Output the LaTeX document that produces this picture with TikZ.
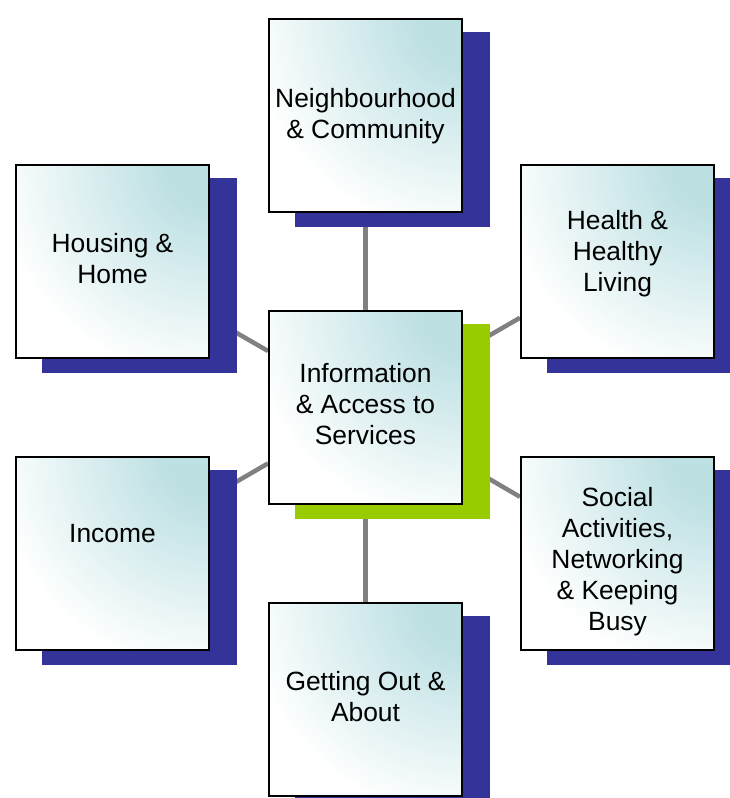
\documentclass[tikz,border=0pt]{standalone}
\usepackage{fontspec}
\setmainfont{Liberation Sans}
\usetikzlibrary{backgrounds}
\definecolor{tealc}{RGB}{189,224,227}
\definecolor{sblue}{RGB}{51,51,153}
\definecolor{sgreen}{RGB}{153,204,0}
\definecolor{connc}{RGB}{128,128,128}
\pgfdeclareradialshading{boxshade}{\pgfpoint{0bp}{0bp}}{color(0bp)=(tealc); color(5bp)=(tealc); color(25bp)=(white); color(50bp)=(white)}
\pgfdeclarelayer{lineslayer}
\pgfdeclarelayer{shadowlayer}
\pgfsetlayers{lineslayer,shadowlayer,main}
\begin{document}
\begin{tikzpicture}[x=1pt,y=-1pt,
  box/.style={draw=black, fill=white, line width=2pt, minimum size=193pt, inner sep=0pt,
    path picture={\shade[shading=boxshade] (path picture bounding box.north east) circle (215pt);}},
  lbl/.style={align=center, inner sep=0pt, font=\fontsize{26.4}{31}\selectfont},
  connline/.style={draw=connc, line width=4.5pt},
  bshadow/.style={fill=sblue},
  gshadow/.style={fill=sgreen}]
\useasboundingbox (0,0) rectangle (730,798);

\node[box] (n) at (365.5,115.5) {};
\node[box] (h) at (112.5,261.5) {};
\node[box] (he) at (617.5,261.5) {};
\node[box] (c) at (365.5,407) {};
\node[box] (i) at (112.5,553.5) {};
\node[box] (s) at (617.5,553.5) {};
\node[box] (g) at (365.5,699.5) {};

\begin{pgfonlayer}{shadowlayer}
\foreach \b in {n,h,he,i,s,g}{
  \fill[bshadow] ([shift={(27,14)}]\b.north west) rectangle ([shift={(27,14)}]\b.south east);
}
\fill[gshadow] ([shift={(27,14)}]c.north west) rectangle ([shift={(27,14)}]c.south east);
\end{pgfonlayer}

\begin{pgfonlayer}{lineslayer}
\foreach \b in {n,h,he,i,s,g}{
  \draw[connline] (c) -- (\b);
}
\end{pgfonlayer}

\node[lbl] (tn) at (365.5,116) {Neighbourhood\\\& Community};
\node[lbl] (th) at (112.5,258.5) {Housing \&\\Home};
\node[lbl] (the) at (617.5,254) {Health \&\\Healthy\\Living};
\node[lbl] (tc) at (365.5,404) {Information\\\& Access to\\Services};
\node[lbl] (ti) at (112.5,534) {Income};
\node[lbl] (ts) at (617.5,561.5) {Social\\Activities,\\Networking\\\& Keeping\\Busy};
\node[lbl] (tg) at (365.5,696.5) {Getting Out \&\\About};
\end{tikzpicture}
\end{document}
